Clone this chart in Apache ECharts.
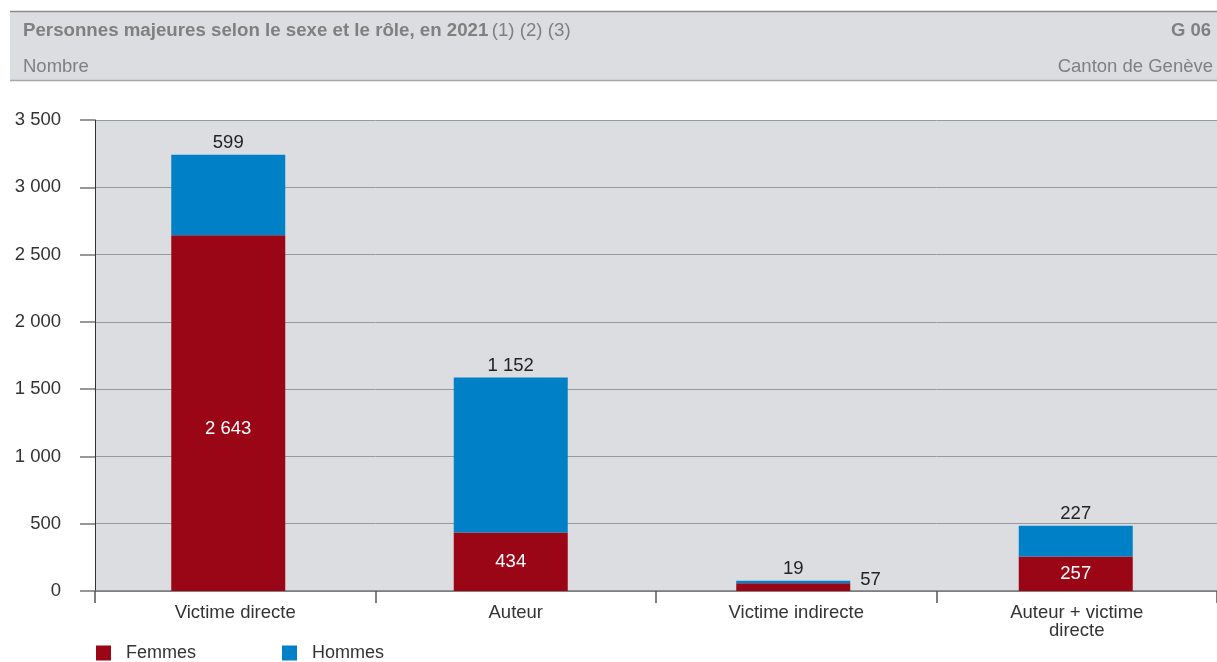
<!DOCTYPE html>
<html><head><meta charset="utf-8">
<script src="https://cdn.jsdelivr.net/npm/echarts@6/dist/echarts.min.js"></script>
<style>html,body{margin:0;padding:0;background:#fff}#c{width:1217px;height:662px}</style>
</head><body><div id="c"></div>
<script>
const categories = ['Victime directe', 'Auteur', 'Victime indirecte', 'Auteur + victime\ndirecte'];
const femmes = [2643, 434, 57, 257];
const hommes = [599, 1152, 19, 227];
const seriesNames = ['Femmes', 'Hommes'];
const yTicks = [0, 500, 1000, 1500, 2000, 2500, 3000, 3500];

const fmt = v => String(v).replace(/\B(?=(\d{3})+(?!\d))/g, ' ');
const FONT = '"Liberation Sans", Arial, sans-serif';
const RED = '#9b0616', BLUE = '#0080c6';

const chart = echarts.init(document.getElementById('c'), null, {renderer: 'canvas'});
chart.setOption({
  animation: false,
  textStyle: {fontFamily: FONT},
  graphic: [
    {type: 'rect', left: 10, top: 11, shape: {width: 1207, height: 69}, style: {fill: '#dcdde0'}, z: -10},
    {type: 'line', shape: {x1: 10, y1: 11.5, x2: 1217, y2: 11.5}, style: {stroke: '#8a8a8a', lineWidth: 1.5}},
    {type: 'line', shape: {x1: 10, y1: 80.5, x2: 1217, y2: 80.5}, style: {stroke: '#a8a8a8', lineWidth: 1.5}},
    {type: 'text', left: 23, top: 21, style: {
      text: '{b|Personnes majeures selon le sexe et le rôle, en 2021} {n|(1) (2) (3)}',
      rich: {
        b: {fontFamily: FONT, fontSize: 18.7, fontWeight: 'bold', fill: '#808080'},
        n: {fontFamily: FONT, fontSize: 18.7, fill: '#808080'}
      }}},
    {type: 'text', left: 23, top: 57, style: {text: 'Nombre', fontFamily: FONT, fontSize: 18.5, fill: '#808080'}},
    {type: 'text', right: 6, top: 21, style: {text: 'G 06', fontFamily: FONT, fontSize: 18.5, fontWeight: 'bold', fill: '#808080'}},
    {type: 'text', right: 4, top: 57, style: {text: 'Canton de Genève', fontFamily: FONT, fontSize: 18.5, fill: '#808080'}}
  ],
  legend: {
    left: 91, top: 639, itemWidth: 15, itemHeight: 15, itemGap: 86,
    icon: 'rect',
    textStyle: {fontFamily: FONT, fontSize: 18, color: '#333', padding: [0, 0, 0, 10]},
    data: seriesNames
  },
  grid: [
    {left: 95, top: 120, width: 1124, height: 471, show: true, backgroundColor: '#dcdde0', borderWidth: 0},
    {left: 87, top: 120, width: 1136, height: 471, show: false}
  ],
  xAxis: [
    {
      type: 'category', data: categories, gridIndex: 0,
      axisLine: {show: true, lineStyle: {color: '#777', width: 1.5}},
      axisTick: {show: true, length: 12, lineStyle: {color: '#555', width: 1.5}},
      axisLabel: {fontFamily: FONT, fontSize: 18.5, color: '#333', margin: 13, lineHeight: 18, interval: 0}
    },
    {type: 'category', data: categories, gridIndex: 1, show: false}
  ],
  yAxis: [
    {
      type: 'value', min: 0, max: 3500, interval: 500, gridIndex: 0,
      axisLine: {show: true, lineStyle: {color: '#333', width: 1}},
      axisTick: {show: true, length: 15, lineStyle: {color: '#777', width: 1.5}},
      splitLine: {show: true, lineStyle: {color: '#999', width: 1}},
      axisLabel: {fontFamily: FONT, fontSize: 18.5, color: '#333', margin: 34,
        formatter: v => yTicks.includes(v) ? fmt(v) : ''}
    },
    {type: 'value', min: 0, max: 3500, interval: 500, gridIndex: 1, show: false, splitLine: {show: false}}
  ],
  series: [
    {
      name: seriesNames[0], type: 'bar', stack: 's', barWidth: 114, xAxisIndex: 1, yAxisIndex: 1,
      itemStyle: {color: RED},
      label: {show: true, position: 'inside', color: '#fff', fontFamily: FONT, fontSize: 18.5,
        formatter: p => fmt(p.value)},
      data: femmes.map((v, i) => i === 0 ? {value: v, label: {offset: [0, 16]}} :
        i === 2 ? {value: v, label: {position: 'right', distance: 10, offset: [0, -7], color: '#222'}} : v)
    },
    {
      name: seriesNames[1], type: 'bar', stack: 's', barWidth: 114, xAxisIndex: 1, yAxisIndex: 1,
      itemStyle: {color: BLUE},
      label: {show: true, position: 'top', distance: 2, color: '#222', fontFamily: FONT, fontSize: 18.5,
        formatter: p => fmt(p.value)},
      data: hommes
    }
  ]
});
</script></body></html>
